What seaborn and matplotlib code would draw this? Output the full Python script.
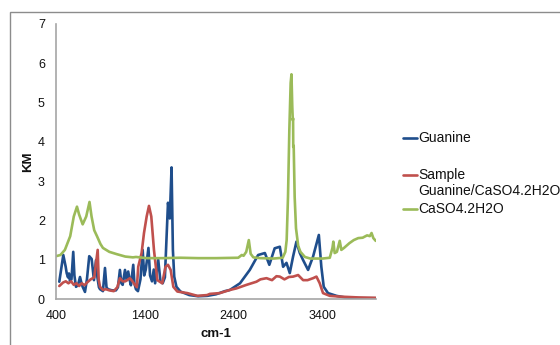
import numpy as np
import pandas as pd
import seaborn as sns
import matplotlib.pyplot as plt
from matplotlib.lines import Line2D
from matplotlib.patches import Rectangle

# ==========================================
# DATA
# ==========================================
GUANINE_WN = [437, 482, 509, 520, 535, 546, 557, 574, 594, 607, 625, 647, 670, 687, 700,
              726, 748, 774, 801, 827, 850, 866, 883, 895, 928, 951, 968, 984, 1030, 1074,
              1097, 1119, 1136, 1150, 1176, 1195, 1212, 1232, 1243, 1269, 1282, 1299, 1322,
              1350, 1375, 1392, 1410, 1440, 1458, 1480, 1500, 1515, 1550, 1575, 1600, 1625,
              1660, 1680, 1700, 1715, 1730, 1755, 1800, 1900, 2000, 2100, 2200, 2300, 2356,
              2470, 2580, 2674, 2750, 2800, 2860, 2918, 2955, 2993, 3030, 3067, 3105, 3143,
              3180, 3236, 3292, 3357, 3385, 3412, 3460, 3555, 3650, 3800, 3997]
GUANINE_KM = [0.44, 1.12, 0.82, 0.66, 0.55, 0.65, 0.45, 0.5, 1.2, 0.6, 0.31, 0.35, 0.56, 0.4, 0.31,
              0.18, 0.5, 1.09, 1.02, 0.48, 0.99, 0.55, 0.3, 0.25, 0.2, 0.79, 0.3, 0.25, 0.22, 0.22,
              0.3, 0.74, 0.4, 0.36, 0.74, 0.48, 0.7, 0.45, 0.35, 0.87, 0.4, 0.25, 0.2,
              0.5, 1.25, 0.6, 0.75, 1.3, 0.6, 0.45, 0.75, 0.4, 1.0, 0.45, 0.4, 0.55,
              2.45, 2.05, 3.35, 1.25, 0.57, 0.31, 0.19, 0.1, 0.07, 0.08, 0.12, 0.2, 0.23,
              0.4, 0.74, 1.12, 1.17, 0.87, 1.29, 1.33, 0.82, 0.92, 0.66, 1.08, 1.46, 1.17,
              0.99, 0.74, 1.08, 1.63, 0.82, 0.31, 0.15, 0.08, 0.04, 0.02, 0.02]

SAMPLE_WN = [437, 480, 510, 540, 570, 600, 630, 660, 690, 720, 750, 790, 830, 869, 880,
             895, 930, 960, 1000, 1050, 1090, 1119, 1150, 1180, 1232, 1260, 1288, 1310,
             1325, 1363, 1390, 1420, 1446, 1472, 1502, 1540, 1595, 1632, 1660, 1690, 1720,
             1765, 1878, 1990, 2100, 2131, 2243, 2356, 2430, 2543, 2655, 2700, 2768, 2830,
             2880, 2918, 2970, 3020, 3068, 3124, 3180, 3230, 3292, 3330, 3367, 3404, 3480,
             3600, 3800, 3997]
SAMPLE_KM = [0.33, 0.42, 0.45, 0.4, 0.45, 0.36, 0.4, 0.33, 0.4, 0.35, 0.42, 0.5, 0.55, 1.25, 0.5,
             0.31, 0.23, 0.25, 0.22, 0.2, 0.3, 0.53, 0.45, 0.45, 0.53, 0.45, 0.36, 0.3,
             0.82, 1.17, 1.68, 2.1, 2.37, 2.1, 1.25, 0.48, 0.4, 0.82, 0.87, 0.74, 0.31,
             0.19, 0.15, 0.08, 0.1, 0.13, 0.15, 0.23, 0.27, 0.36, 0.44, 0.5, 0.53, 0.48,
             0.58, 0.57, 0.5, 0.56, 0.57, 0.61, 0.48, 0.48, 0.53, 0.57, 0.4, 0.15, 0.08,
             0.06, 0.04, 0.03]

CASO4_WN = [400, 450, 500, 560, 600, 636, 660, 700, 740, 777, 800, 830, 861, 900, 928, 1000,
            1086, 1180, 1265, 1300, 1423, 1600, 1800, 2000, 2200, 2450, 2490, 2510, 2540,
            2569, 2590, 2620, 2700, 2850, 2950, 2980, 2995, 3010, 3025, 3040, 3049, 3058,
            3064, 3067, 3069, 3074, 3085, 3100, 3125, 3150, 3200, 3260, 3400, 3480, 3510,
            3520, 3535, 3560, 3592, 3610, 3640, 3700, 3750, 3800, 3850, 3900, 3930, 3950,
            3970, 3997]
CASO4_KM = [1.09, 1.12, 1.25, 1.6, 2.1, 2.35, 2.15, 1.9, 2.1, 2.47, 2.1, 1.75, 1.6, 1.4, 1.3, 1.2,
            1.14, 1.08, 1.06, 1.07, 1.04, 1.04, 1.05, 1.04, 1.04, 1.05, 1.12, 1.1, 1.2,
            1.5, 1.15, 1.06, 1.04, 1.03, 1.05, 1.2, 1.5, 2.6, 4.3, 5.5, 5.72, 4.9,
            4.55, 4.6, 3.87, 3.9, 2.6, 1.8, 1.35, 1.2, 1.07, 1.03, 1.03, 1.05, 1.3,
            1.46, 1.17, 1.2, 1.48, 1.25, 1.3, 1.42, 1.5, 1.55, 1.56, 1.62, 1.6, 1.68,
            1.55, 1.48]

SERIES = ["Guanine", "Sample\nGuanine/CaSO4.2H2O", "CaSO4.2H2O"]
COLOURS = ["#1F4E8C", "#C0504D", "#9BBB59"]
X_TICKS = [400, 1400, 2400, 3400]
Y_TICKS = [0, 1, 2, 3, 4, 5, 6, 7]

# long-form table for seaborn
frames = []
for name, wn, km in zip(SERIES, [GUANINE_WN, SAMPLE_WN, CASO4_WN],
                        [GUANINE_KM, SAMPLE_KM, CASO4_KM]):
    frames.append(pd.DataFrame({"wn": wn, "km": km, "series": name}))
df = pd.concat(frames, ignore_index=True)

# ==========================================
# PLOT
# ==========================================
sns.set_style("white")
plt.rcParams["font.family"] = ["Liberation Sans", "DejaVu Sans"]

fig = plt.figure(figsize=(5.6, 3.45), dpi=100)
ax = fig.add_axes([56 / 560, 1 - 299 / 345, 320 / 560, 275 / 345])

sns.lineplot(data=df, x="wn", y="km", hue="series", hue_order=SERIES,
             palette=COLOURS, sort=False, estimator=None, linewidth=1.9,
             legend=False, ax=ax)

ax.set_xlim(400, 4000)
ax.set_ylim(0, 7)
ax.set_xticks(X_TICKS)
ax.set_yticks(Y_TICKS)
ax.tick_params(length=0, labelsize=9, colors="#111111", pad=8)
ax.set_xlabel("cm-1", fontsize=9.5, fontweight="bold", labelpad=4, color="#111111")
ax.set_ylabel("KM", fontsize=9.5, fontweight="bold", labelpad=3, color="#111111")

for side in ["top", "right"]:
    ax.spines[side].set_visible(False)
for side in ["left", "bottom"]:
    ax.spines[side].set_color("#A6A6A6")
    ax.spines[side].set_linewidth(1.2)

# manual legend to mimic the Excel layout
legend_rows = [(138, [SERIES[0]]), (175, ["Sample", "Guanine/CaSO4.2H2O"]), (209, [SERIES[2]])]
for (ypx, lines), colour in zip(legend_rows, COLOURS):
    yf = 1 - ypx / 345
    fig.add_artist(Line2D([403 / 560, 417 / 560], [yf, yf], color=colour, lw=1.9))
    for k, txt in enumerate(lines):
        fig.text(418 / 560, 1 - (ypx + 16 * k) / 345, txt, fontsize=10,
                 va="center", ha="left", color="#111111")

# chart-area border
fig.add_artist(Rectangle((9.5 / 560, -0.1), 1.2, 1 - 12 / 345 + 0.1,
                         transform=fig.transFigure, fill=False,
                         edgecolor="#8C8C8C", lw=1))

fig.savefig("out.png", dpi=100)
